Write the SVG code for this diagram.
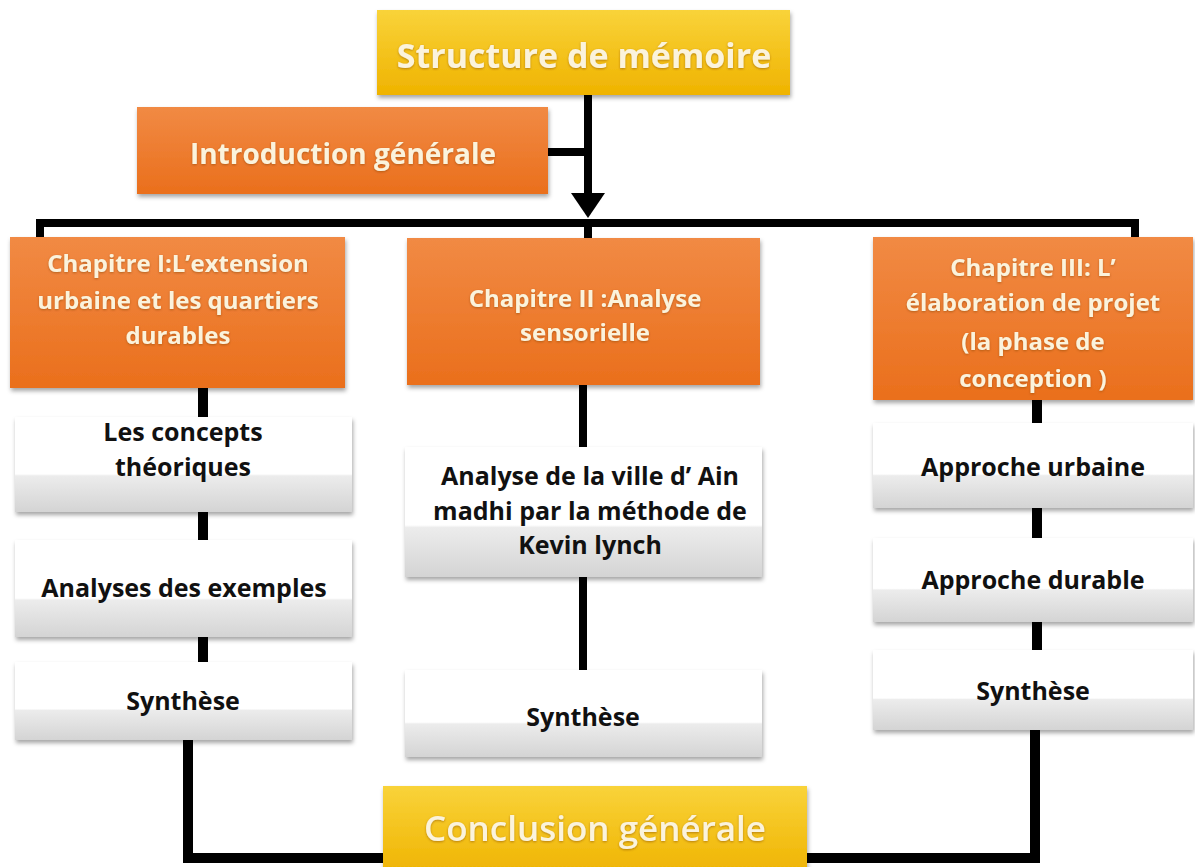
<svg xmlns="http://www.w3.org/2000/svg" width="1195" height="867" viewBox="0 0 1195 867">
<defs>
<linearGradient id="gy" x1="0" y1="0" x2="0" y2="1">
<stop offset="0" stop-color="#f9d33a"/><stop offset="1" stop-color="#efb300"/>
</linearGradient>
<linearGradient id="go" x1="0" y1="0" x2="0" y2="1">
<stop offset="0" stop-color="#f18a44"/><stop offset="1" stop-color="#ea6f1c"/>
</linearGradient>
<linearGradient id="gw" x1="0" y1="0" x2="0" y2="1">
<stop offset="0" stop-color="#ffffff"/><stop offset="0.6" stop-color="#ffffff"/><stop offset="0.62" stop-color="#ececec"/><stop offset="1" stop-color="#d4d4d4"/>
</linearGradient>
<filter id="sh" x="-5%" y="-5%" width="110%" height="120%">
<feDropShadow dx="1" dy="3" stdDeviation="2" flood-color="#000" flood-opacity="0.35"/>
</filter>
<filter id="tg" x="-5%" y="-20%" width="110%" height="140%">
<feDropShadow dx="0" dy="1" stdDeviation="1" flood-color="#7a3a00" flood-opacity="0.5"/>
</filter>
</defs>
<style>
.y{fill:url(#gy);filter:url(#sh)}
.o{fill:url(#go);filter:url(#sh)}
.w{fill:url(#gw);filter:url(#sh)}
text{font-family:"Open Sans","DejaVu Sans",sans-serif;font-weight:700;text-anchor:middle;dominant-baseline:central}
.ct{fill:#fbf3dc;font-size:24px;filter:url(#tg)}
.bt{fill:#111;font-size:25px}
.big{fill:#fbf3dc;font-size:34px;filter:url(#tg)}
.ln{stroke:#000;stroke-width:8;fill:none}
.st{stroke:#000;stroke-width:10;fill:none}
</style>
<rect width="1195" height="867" fill="#fff"/>
<g id="connectors">
<line class="ln" x1="588" y1="95" x2="588" y2="196"/>
<polygon points="571,193 605,193 588,218" fill="#000"/>
<line class="ln" x1="548" y1="152" x2="588" y2="152"/>
<polyline class="ln" points="40,238 40,223 1135,223 1135,240"/>
<line class="ln" x1="588" y1="223" x2="588" y2="238"/>
<line class="st" x1="203" y1="388" x2="203" y2="417"/>
<line class="st" x1="203" y1="512" x2="203" y2="540"/>
<line class="st" x1="203" y1="637" x2="203" y2="662"/>
<line class="ln" x1="583" y1="385" x2="583" y2="447"/>
<line class="ln" x1="583" y1="577" x2="583" y2="670"/>
<line class="st" x1="1037" y1="400" x2="1037" y2="423"/>
<line class="st" x1="1037" y1="508" x2="1037" y2="538"/>
<line class="st" x1="1037" y1="622" x2="1037" y2="650"/>
<polyline class="st" points="188,740 188,858 390,858"/>
<polyline class="st" points="1035,730 1035,858 800,858"/>
</g>
<g id="title"><rect class="y" x="377" y="10" width="413" height="85"/><text class="big" x="584" y="55">Structure de mémoire</text></g>
<g id="intro"><rect class="o" x="137" y="107" width="411" height="87"/><text class="ct" x="343" y="153" style="font-size:28px">Introduction générale</text></g>
<g id="ch1"><rect class="o" x="10" y="237" width="335" height="151"/>
<text class="ct" x="178" y="262">Chapitre I:L’extension</text>
<text class="ct" x="178" y="299">urbaine et les quartiers</text>
<text class="ct" x="178" y="334">durables</text></g>
<g id="ch2"><rect class="o" x="407" y="238" width="353" height="147"/>
<text class="ct" x="585" y="297">Chapitre II :Analyse</text>
<text class="ct" x="585" y="331">sensorielle</text></g>
<g id="ch3"><rect class="o" x="873" y="237" width="320" height="163"/>
<text class="ct" x="1033" y="266">Chapitre III: L’</text>
<text class="ct" x="1033" y="301">élaboration de projet</text>
<text class="ct" x="1033" y="340">(la phase de</text>
<text class="ct" x="1033" y="377">conception )</text></g>
<g id="c1a"><rect class="w" x="15" y="417" width="337" height="95"/>
<text class="bt" x="183" y="431">Les concepts</text><text class="bt" x="183" y="466">théoriques</text></g>
<g id="c1b"><rect class="w" x="15" y="540" width="337" height="97"/><text class="bt" x="184" y="587">Analyses des exemples</text></g>
<g id="c1c"><rect class="w" x="15" y="662" width="337" height="78"/><text class="bt" x="183" y="700">Synthèse</text></g>
<g id="c2a"><rect class="w" x="405" y="447" width="357" height="130"/>
<text class="bt" x="590" y="475">Analyse de la ville d’ Ain</text>
<text class="bt" x="590" y="510">madhi par la méthode de</text>
<text class="bt" x="590" y="544">Kevin lynch</text></g>
<g id="c2b"><rect class="w" x="405" y="670" width="357" height="87"/><text class="bt" x="583" y="716">Synthèse</text></g>
<g id="c3a"><rect class="w" x="873" y="423" width="320" height="85"/><text class="bt" x="1033" y="466">Approche urbaine</text></g>
<g id="c3b"><rect class="w" x="873" y="538" width="320" height="84"/><text class="bt" x="1033" y="579">Approche durable</text></g>
<g id="c3c"><rect class="w" x="873" y="650" width="320" height="80"/><text class="bt" x="1033" y="690">Synthèse</text></g>
<g id="conclusion"><rect class="y" x="383" y="786" width="424" height="90"/><text class="big" x="595" y="827" style="font-size:35px;font-weight:600">Conclusion générale</text></g>
</svg>
